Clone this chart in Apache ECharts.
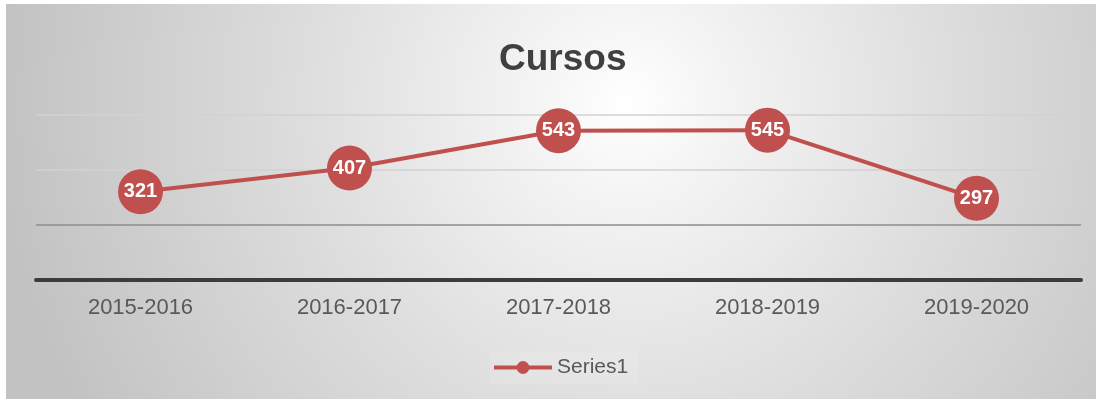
<!DOCTYPE html>
<html lang="es">
<head>
   <meta charset="utf-8">
   <style>
      html,
      body {
         margin: 0;
         padding: 0;
         width: 100%;
         height: 100%;
         overflow: hidden;
         background: #ffffff;
      }

      #container {
         position: absolute;
         left: 6px;
         top: 4px;
         width: 1090px;
         height: 395px;
      }
   </style>
   <script src="https://cdn.jsdelivr.net/npm/echarts@6/dist/echarts.min.js"></script>
</head>

<body>
   <div id="container"></div>

   <script type="text/javascript">
      // categorías y valores
      let cursos = ["2015-2016", "2016-2017", "2017-2018", "2018-2019", "2019-2020"]
      let series1 = [321, 407, 543, 545, 297]
      let yTicks = [0, 200, 400, 600]

      var dom = document.getElementById('container');
      var myChart = echarts.init(dom, null, { renderer: 'canvas' });

      var rojo = '#c0504d';

      var option = {
         backgroundColor: {
            type: 'radial',
            x: 0.57,
            y: 0.25,
            r: 1.6,
            colorStops: [
               { offset: 0, color: '#ffffff' },
               { offset: 0.15, color: '#f4f4f4' },
               { offset: 0.5, color: '#dedede' },
               { offset: 1, color: '#c2c2c2' },
            ],
         },
         textStyle: {
            fontFamily: "Liberation Sans, Arial, sans-serif",
         },
         title: {
            text: "Cursos",
            left: 488,
            top: 32,
            textStyle: {
               fontSize: 37,
               fontWeight: 'bold',
               color: '#404040',
            },
         },
         legend: {
            left: 484,
            top: 347,
            itemWidth: 58,
            itemHeight: 16,
            backgroundColor: 'rgba(255,255,255,0.12)',
            padding: [6, 10, 6, 2],
            lineStyle: { width: 4 },
            textStyle: {
               fontSize: 21,
               color: '#595959',
            },
            data: ["Series1"],
         },
         grid: {
            left: 30,
            right: 15,
            top: 111,
            bottom: 119,
         },
         xAxis: {
            type: "category",
            data: cursos,
            boundaryGap: true,
            axisLine: {
               lineStyle: { color: '#3c3c3c', width: 4 },
            },
            axisTick: { show: false },
            axisLabel: {
               margin: 17,
               fontSize: 22,
               color: '#595959',
            },
         },
         yAxis: {
            type: "value",
            min: yTicks[0],
            max: yTicks[yTicks.length - 1],
            interval: 200,
            axisLabel: { show: false },
            axisLine: { show: false },
            axisTick: { show: false },
            splitLine: {
               lineStyle: {
                  color: ['#3c3c3c', '#8c8c8c', '#d2d2d2', '#d2d2d2'],
                  width: 1.5,
               },
            },
         },
         series: [
            {
               name: "Series1",
               type: "line",
               data: series1,
               color: rojo,
               symbol: 'circle',
               symbolSize: 45,
               lineStyle: { width: 4, color: rojo },
               itemStyle: { color: rojo },
               label: {
                  show: true,
                  position: 'inside',
                  color: '#ffffff',
                  fontSize: 20,
                  fontWeight: 'bold',
               },
               animation: false,
            },
         ],
         animation: false,
      };

      myChart.setOption(option);
      window.addEventListener('resize', myChart.resize);
   </script>
</body>

</html>
